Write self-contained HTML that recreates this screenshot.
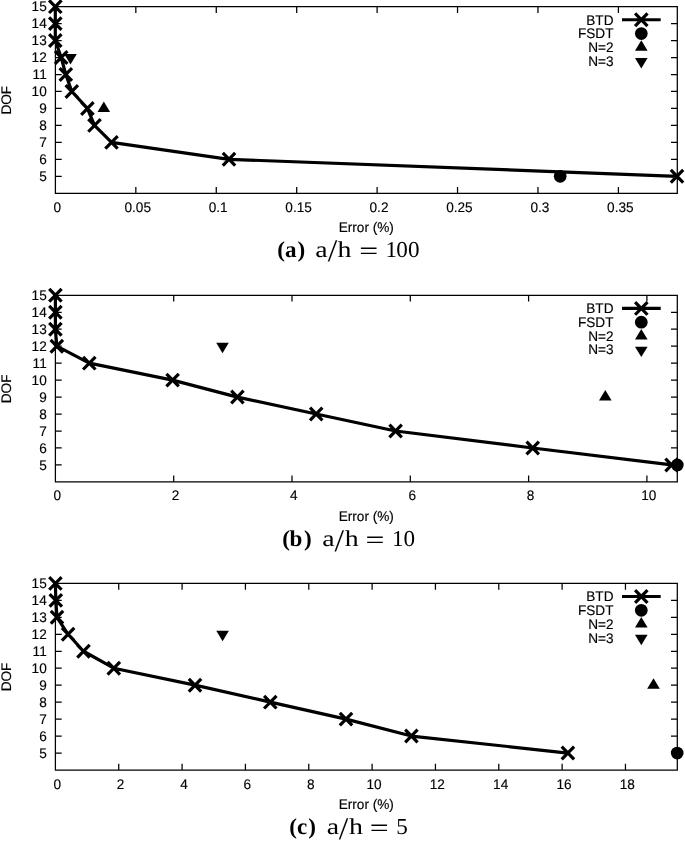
<!DOCTYPE html>
<html lang="en"><head><meta charset="utf-8"><title>DOF vs Error</title>
<style>html,body{margin:0;padding:0;background:#fff}svg{display:block}text{text-rendering:geometricPrecision}.s text{font-family:"Liberation Sans",sans-serif;font-size:13.9px;fill:#000;stroke:#000;stroke-width:0.15px}.cb{font-family:"Liberation Serif",serif;font-weight:bold;font-size:22.8px;fill:#000}.cr{font-family:"Liberation Serif",serif;font-size:22.8px;fill:#000}.lt{font-family:"DejaVu Sans Light","DejaVu Sans",sans-serif;font-weight:200}</style></head><body>
<svg width="685" height="841" viewBox="0 0 685 841">
<rect width="685" height="841" fill="#fff"/>
<g transform="translate(0 6.65)">
<path d="M55.4 0H677.3V186.6H55.4ZM55.4 169.64h6.3M677.3 169.64h-6.3M55.4 152.67h6.3M677.3 152.67h-6.3M55.4 135.71h6.3M677.3 135.71h-6.3M55.4 118.75h6.3M677.3 118.75h-6.3M55.4 101.78h6.3M677.3 101.78h-6.3M55.4 84.82h6.3M677.3 84.82h-6.3M55.4 67.85h6.3M677.3 67.85h-6.3M55.4 50.89h6.3M677.3 50.89h-6.3M55.4 33.93h6.3M677.3 33.93h-6.3M55.4 16.96h6.3M677.3 16.96h-6.3M135.83 186.6v-6.3M135.83 0v6.3M216.26 186.6v-6.3M216.26 0v6.3M296.69 186.6v-6.3M296.69 0v6.3M377.11 186.6v-6.3M377.11 0v6.3M457.54 186.6v-6.3M457.54 0v6.3M537.97 186.6v-6.3M537.97 0v6.3M618.40 186.6v-6.3M618.40 0v6.3" fill="none" stroke="#000" stroke-width="1.25"/>
<g class="s">
<text transform="translate(46.75 174.44) scale(0.98 1)" text-anchor="end">5</text>
<text transform="translate(46.75 157.47) scale(0.98 1)" text-anchor="end">6</text>
<text transform="translate(46.75 140.51) scale(0.98 1)" text-anchor="end">7</text>
<text transform="translate(46.75 123.55) scale(0.98 1)" text-anchor="end">8</text>
<text transform="translate(46.75 106.58) scale(0.98 1)" text-anchor="end">9</text>
<text transform="translate(46.75 89.62) scale(0.98 1)" text-anchor="end">10</text>
<text transform="translate(46.75 72.65) scale(0.98 1)" text-anchor="end">11</text>
<text transform="translate(46.75 55.69) scale(0.98 1)" text-anchor="end">12</text>
<text transform="translate(46.75 38.73) scale(0.98 1)" text-anchor="end">13</text>
<text transform="translate(46.75 21.76) scale(0.98 1)" text-anchor="end">14</text>
<text transform="translate(46.75 4.80) scale(0.98 1)" text-anchor="end">15</text>
<text transform="translate(57.30 204.90) scale(0.98 1)" text-anchor="middle">0</text>
<text transform="translate(137.73 204.90) scale(0.98 1)" text-anchor="middle">0.05</text>
<text transform="translate(218.16 204.90) scale(0.98 1)" text-anchor="middle">0.1</text>
<text transform="translate(298.59 204.90) scale(0.98 1)" text-anchor="middle">0.15</text>
<text transform="translate(379.01 204.90) scale(0.98 1)" text-anchor="middle">0.2</text>
<text transform="translate(459.44 204.90) scale(0.98 1)" text-anchor="middle">0.25</text>
<text transform="translate(539.87 204.90) scale(0.98 1)" text-anchor="middle">0.3</text>
<text transform="translate(620.30 204.90) scale(0.98 1)" text-anchor="middle">0.35</text>
<text transform="translate(366.30 225.60) scale(0.98 1)" text-anchor="middle">Error (%)</text>
<text transform="translate(11.10 93.60) rotate(-90) scale(0.98 1)" text-anchor="middle">DOF</text>
<text transform="translate(613.50 18.00) scale(0.98 1)" text-anchor="end">BTD</text>
<text transform="translate(613.50 31.70) scale(0.98 1)" text-anchor="end">FSDT</text>
<text transform="translate(613.50 45.40) scale(0.98 1)" text-anchor="end">N=2</text>
<text transform="translate(613.50 59.10) scale(0.98 1)" text-anchor="end">N=3</text>
</g>
<path d="M622 13.1H660.7M635.10 6.75L647.50 19.45M635.10 19.45L647.50 6.75" fill="none" stroke="#000" stroke-width="3.2"/>
<circle cx="641.3" cy="26.90" r="6.35"/>
<path d="M641.30 33.70L635.00 44.15L647.60 44.15Z"/>
<path d="M641.30 61.80L635.00 51.35L647.60 51.35Z"/>
<path d="M55.30 0.00L55.30 16.96L55.30 33.93L61.20 50.89L65.80 67.85L71.80 84.82L87.40 101.78L94.50 118.75L111.50 135.71L229.00 152.67L677.00 169.64M49.10 -6.35L61.50 6.35M49.10 6.35L61.50 -6.35M49.10 10.61L61.50 23.31M49.10 23.31L61.50 10.61M49.10 27.58L61.50 40.28M49.10 40.28L61.50 27.58M55.00 44.54L67.40 57.24M55.00 57.24L67.40 44.54M59.60 61.50L72.00 74.20M59.60 74.20L72.00 61.50M65.60 78.47L78.00 91.17M65.60 91.17L78.00 78.47M81.20 95.43L93.60 108.13M81.20 108.13L93.60 95.43M88.30 112.40L100.70 125.10M88.30 125.10L100.70 112.40M105.30 129.36L117.70 142.06M105.30 142.06L117.70 129.36M222.80 146.32L235.20 159.02M222.80 159.02L235.20 146.32M670.80 163.29L683.20 175.99M670.80 175.99L683.20 163.29" fill="none" stroke="#000" stroke-width="3.2" stroke-linejoin="round"/>
<circle cx="560.2" cy="169.64" r="6.35"/>
<path d="M103.80 94.78L97.50 105.23L110.10 105.23Z"/>
<path d="M70.50 57.89L64.20 47.44L76.80 47.44Z"/>
<text class="cb" transform="translate(278.10 250.15) scale(1.013 1.0)" x="-0.73 6.86 19.10" y="0.00 0.00 0.00">(a)</text>
<text class="cr" transform="translate(315.90 250.15) scale(1.22 1.0)" x="-0.55 9.21 17.80" y="0.00 2.60 0.00">a<tspan class="lt" font-size="25.6">/</tspan>h</text>
<text class="cr" transform="translate(360.50 254.45) scale(1.0 1.3)" x="-2.32" y="0.00"><tspan class="lt" font-size="25.0">=</tspan></text>
<text class="cr" transform="translate(387.20 250.15) scale(1.015 1.0)" x="-1.70 9.00 20.52" y="0.00 0.00 0.00">100</text>
</g>
<g transform="translate(0 295.3)">
<path d="M55.4 0H677.3V186.6H55.4ZM55.4 169.64h6.3M677.3 169.64h-6.3M55.4 152.67h6.3M677.3 152.67h-6.3M55.4 135.71h6.3M677.3 135.71h-6.3M55.4 118.75h6.3M677.3 118.75h-6.3M55.4 101.78h6.3M677.3 101.78h-6.3M55.4 84.82h6.3M677.3 84.82h-6.3M55.4 67.85h6.3M677.3 67.85h-6.3M55.4 50.89h6.3M677.3 50.89h-6.3M55.4 33.93h6.3M677.3 33.93h-6.3M55.4 16.96h6.3M677.3 16.96h-6.3M173.70 186.6v-6.3M173.70 0v6.3M292.00 186.6v-6.3M292.00 0v6.3M410.30 186.6v-6.3M410.30 0v6.3M528.60 186.6v-6.3M528.60 0v6.3M646.90 186.6v-6.3M646.90 0v6.3" fill="none" stroke="#000" stroke-width="1.25"/>
<g class="s">
<text transform="translate(46.75 174.44) scale(0.98 1)" text-anchor="end">5</text>
<text transform="translate(46.75 157.47) scale(0.98 1)" text-anchor="end">6</text>
<text transform="translate(46.75 140.51) scale(0.98 1)" text-anchor="end">7</text>
<text transform="translate(46.75 123.55) scale(0.98 1)" text-anchor="end">8</text>
<text transform="translate(46.75 106.58) scale(0.98 1)" text-anchor="end">9</text>
<text transform="translate(46.75 89.62) scale(0.98 1)" text-anchor="end">10</text>
<text transform="translate(46.75 72.65) scale(0.98 1)" text-anchor="end">11</text>
<text transform="translate(46.75 55.69) scale(0.98 1)" text-anchor="end">12</text>
<text transform="translate(46.75 38.73) scale(0.98 1)" text-anchor="end">13</text>
<text transform="translate(46.75 21.76) scale(0.98 1)" text-anchor="end">14</text>
<text transform="translate(46.75 4.80) scale(0.98 1)" text-anchor="end">15</text>
<text transform="translate(57.30 205.00) scale(0.98 1)" text-anchor="middle">0</text>
<text transform="translate(175.60 205.00) scale(0.98 1)" text-anchor="middle">2</text>
<text transform="translate(293.90 205.00) scale(0.98 1)" text-anchor="middle">4</text>
<text transform="translate(412.20 205.00) scale(0.98 1)" text-anchor="middle">6</text>
<text transform="translate(530.50 205.00) scale(0.98 1)" text-anchor="middle">8</text>
<text transform="translate(648.80 205.00) scale(0.98 1)" text-anchor="middle">10</text>
<text transform="translate(366.30 225.20) scale(0.98 1)" text-anchor="middle">Error (%)</text>
<text transform="translate(11.10 93.60) rotate(-90) scale(0.98 1)" text-anchor="middle">DOF</text>
<text transform="translate(613.50 18.00) scale(0.98 1)" text-anchor="end">BTD</text>
<text transform="translate(613.50 31.70) scale(0.98 1)" text-anchor="end">FSDT</text>
<text transform="translate(613.50 45.40) scale(0.98 1)" text-anchor="end">N=2</text>
<text transform="translate(613.50 59.10) scale(0.98 1)" text-anchor="end">N=3</text>
</g>
<path d="M622 13.1H660.7M635.10 6.75L647.50 19.45M635.10 19.45L647.50 6.75" fill="none" stroke="#000" stroke-width="3.2"/>
<circle cx="641.3" cy="26.90" r="6.35"/>
<path d="M641.30 33.70L635.00 44.15L647.60 44.15Z"/>
<path d="M641.30 61.80L635.00 51.35L647.60 51.35Z"/>
<path d="M55.40 0.00L55.40 16.96L55.40 33.93L56.80 50.89L89.30 67.85L172.60 84.82L237.40 101.78L316.20 118.75L395.60 135.71L532.70 152.67L671.60 169.64M49.20 -6.35L61.60 6.35M49.20 6.35L61.60 -6.35M49.20 10.61L61.60 23.31M49.20 23.31L61.60 10.61M49.20 27.58L61.60 40.28M49.20 40.28L61.60 27.58M50.60 44.54L63.00 57.24M50.60 57.24L63.00 44.54M83.10 61.50L95.50 74.20M83.10 74.20L95.50 61.50M166.40 78.47L178.80 91.17M166.40 91.17L178.80 78.47M231.20 95.43L243.60 108.13M231.20 108.13L243.60 95.43M310.00 112.40L322.40 125.10M310.00 125.10L322.40 112.40M389.40 129.36L401.80 142.06M389.40 142.06L401.80 129.36M526.50 146.32L538.90 159.02M526.50 159.02L538.90 146.32M665.40 163.29L677.80 175.99M665.40 175.99L677.80 163.29" fill="none" stroke="#000" stroke-width="3.2" stroke-linejoin="round"/>
<circle cx="677.3" cy="169.64" r="6.35"/>
<path d="M605.30 94.78L599.00 105.23L611.60 105.23Z"/>
<path d="M222.50 57.89L216.20 47.44L228.80 47.44Z"/>
<text class="cb" transform="translate(283.10 250.80) scale(1.013 1.0)" x="-0.73 6.43 20.68" y="0.00 0.00 0.00">(b)</text>
<text class="cr" transform="translate(322.80 250.80) scale(1.22 1.0)" x="-0.55 9.29 17.97" y="0.00 2.60 0.00">a<tspan class="lt" font-size="25.6">/</tspan>h</text>
<text class="cr" transform="translate(366.80 255.10) scale(1.0 1.3)" x="-2.32" y="0.00"><tspan class="lt" font-size="25.0">=</tspan></text>
<text class="cr" transform="translate(393.70 250.80) scale(1.015 1.0)" x="-1.70 9.59" y="0.00 0.00">10</text>
</g>
<g transform="translate(0 583.4)">
<path d="M55.4 0H677.3V186.6H55.4ZM55.4 169.64h6.3M677.3 169.64h-6.3M55.4 152.67h6.3M677.3 152.67h-6.3M55.4 135.71h6.3M677.3 135.71h-6.3M55.4 118.75h6.3M677.3 118.75h-6.3M55.4 101.78h6.3M677.3 101.78h-6.3M55.4 84.82h6.3M677.3 84.82h-6.3M55.4 67.85h6.3M677.3 67.85h-6.3M55.4 50.89h6.3M677.3 50.89h-6.3M55.4 33.93h6.3M677.3 33.93h-6.3M55.4 16.96h6.3M677.3 16.96h-6.3M118.74 186.6v-6.3M118.74 0v6.3M182.08 186.6v-6.3M182.08 0v6.3M245.42 186.6v-6.3M245.42 0v6.3M308.76 186.6v-6.3M308.76 0v6.3M372.10 186.6v-6.3M372.10 0v6.3M435.44 186.6v-6.3M435.44 0v6.3M498.78 186.6v-6.3M498.78 0v6.3M562.12 186.6v-6.3M562.12 0v6.3M625.46 186.6v-6.3M625.46 0v6.3" fill="none" stroke="#000" stroke-width="1.25"/>
<g class="s">
<text transform="translate(46.75 174.44) scale(0.98 1)" text-anchor="end">5</text>
<text transform="translate(46.75 157.47) scale(0.98 1)" text-anchor="end">6</text>
<text transform="translate(46.75 140.51) scale(0.98 1)" text-anchor="end">7</text>
<text transform="translate(46.75 123.55) scale(0.98 1)" text-anchor="end">8</text>
<text transform="translate(46.75 106.58) scale(0.98 1)" text-anchor="end">9</text>
<text transform="translate(46.75 89.62) scale(0.98 1)" text-anchor="end">10</text>
<text transform="translate(46.75 72.65) scale(0.98 1)" text-anchor="end">11</text>
<text transform="translate(46.75 55.69) scale(0.98 1)" text-anchor="end">12</text>
<text transform="translate(46.75 38.73) scale(0.98 1)" text-anchor="end">13</text>
<text transform="translate(46.75 21.76) scale(0.98 1)" text-anchor="end">14</text>
<text transform="translate(46.75 4.80) scale(0.98 1)" text-anchor="end">15</text>
<text transform="translate(57.30 205.20) scale(0.98 1)" text-anchor="middle">0</text>
<text transform="translate(120.64 205.20) scale(0.98 1)" text-anchor="middle">2</text>
<text transform="translate(183.98 205.20) scale(0.98 1)" text-anchor="middle">4</text>
<text transform="translate(247.32 205.20) scale(0.98 1)" text-anchor="middle">6</text>
<text transform="translate(310.66 205.20) scale(0.98 1)" text-anchor="middle">8</text>
<text transform="translate(374.00 205.20) scale(0.98 1)" text-anchor="middle">10</text>
<text transform="translate(437.34 205.20) scale(0.98 1)" text-anchor="middle">12</text>
<text transform="translate(500.68 205.20) scale(0.98 1)" text-anchor="middle">14</text>
<text transform="translate(564.02 205.20) scale(0.98 1)" text-anchor="middle">16</text>
<text transform="translate(627.36 205.20) scale(0.98 1)" text-anchor="middle">18</text>
<text transform="translate(366.30 225.50) scale(0.98 1)" text-anchor="middle">Error (%)</text>
<text transform="translate(11.10 93.60) rotate(-90) scale(0.98 1)" text-anchor="middle">DOF</text>
<text transform="translate(613.50 18.00) scale(0.98 1)" text-anchor="end">BTD</text>
<text transform="translate(613.50 31.70) scale(0.98 1)" text-anchor="end">FSDT</text>
<text transform="translate(613.50 45.40) scale(0.98 1)" text-anchor="end">N=2</text>
<text transform="translate(613.50 59.10) scale(0.98 1)" text-anchor="end">N=3</text>
</g>
<path d="M622 13.1H660.7M635.10 6.75L647.50 19.45M635.10 19.45L647.50 6.75" fill="none" stroke="#000" stroke-width="3.2"/>
<circle cx="641.3" cy="26.90" r="6.35"/>
<path d="M641.30 33.70L635.00 44.15L647.60 44.15Z"/>
<path d="M641.30 61.80L635.00 51.35L647.60 51.35Z"/>
<path d="M55.40 0.00L55.80 16.96L57.00 33.93L68.10 50.89L83.50 67.85L113.80 84.82L195.00 101.78L270.30 118.75L346.00 135.71L411.40 152.67L567.90 169.64M49.20 -6.35L61.60 6.35M49.20 6.35L61.60 -6.35M49.60 10.61L62.00 23.31M49.60 23.31L62.00 10.61M50.80 27.58L63.20 40.28M50.80 40.28L63.20 27.58M61.90 44.54L74.30 57.24M61.90 57.24L74.30 44.54M77.30 61.50L89.70 74.20M77.30 74.20L89.70 61.50M107.60 78.47L120.00 91.17M107.60 91.17L120.00 78.47M188.80 95.43L201.20 108.13M188.80 108.13L201.20 95.43M264.10 112.40L276.50 125.10M264.10 125.10L276.50 112.40M339.80 129.36L352.20 142.06M339.80 142.06L352.20 129.36M405.20 146.32L417.60 159.02M405.20 159.02L417.60 146.32M561.70 163.29L574.10 175.99M561.70 175.99L574.10 163.29" fill="none" stroke="#000" stroke-width="3.2" stroke-linejoin="round"/>
<circle cx="677.2" cy="169.64" r="6.35"/>
<path d="M653.50 94.78L647.20 105.23L659.80 105.23Z"/>
<path d="M222.60 57.89L216.30 47.44L228.90 47.44Z"/>
<text class="cb" transform="translate(290.10 250.60) scale(1.013 1.0)" x="-0.73 6.80 17.92" y="0.00 0.00 0.00">(c)</text>
<text class="cr" transform="translate(327.30 250.60) scale(1.22 1.0)" x="-0.55 9.04 17.80" y="0.00 2.60 0.00">a<tspan class="lt" font-size="25.6">/</tspan>h</text>
<text class="cr" transform="translate(371.10 254.90) scale(1.0 1.3)" x="-2.32" y="0.00"><tspan class="lt" font-size="25.0">=</tspan></text>
<text class="cr" transform="translate(397.20 250.60) scale(1.015 1.0)" x="-1.02" y="0.00">5</text>
</g>
</svg></body></html>
